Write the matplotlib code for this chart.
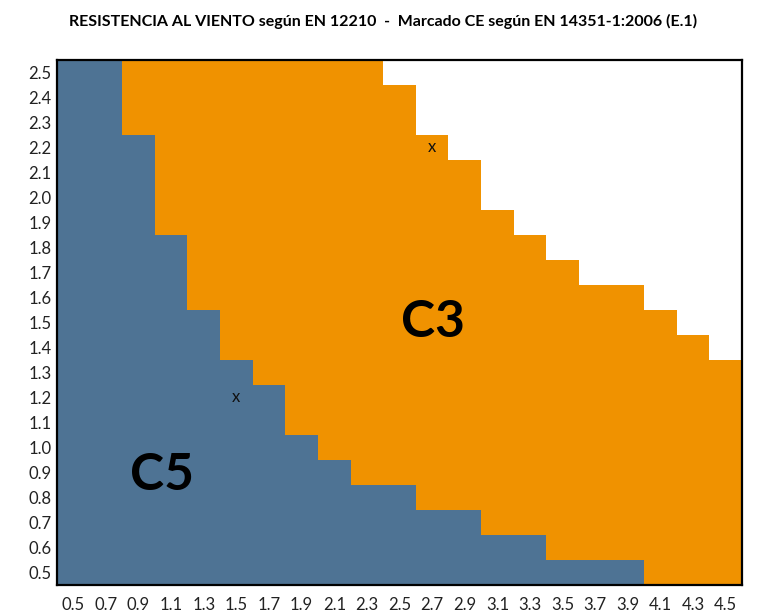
import matplotlib
matplotlib.use("Agg")
import matplotlib.pyplot as plt
import numpy as np

# ---------------- data ----------------
x_labels = ["0.5", "0.7", "0.9", "1.1", "1.3", "1.5", "1.7", "1.9", "2.1", "2.3", "2.5",
            "2.7", "2.9", "3.1", "3.3", "3.5", "3.7", "3.9", "4.1", "4.3", "4.5"]
y_ticks = [0.5, 0.6, 0.7, 0.8, 0.9, 1.0, 1.1, 1.2, 1.3, 1.4, 1.5,
           1.6, 1.7, 1.8, 1.9, 2.0, 2.1, 2.2, 2.3, 2.4, 2.5]

# highest row (y value) reached by each class in every column; 0.4 = none
c5_top = [2.5, 2.5, 2.2, 1.8, 1.5, 1.3, 1.2, 1.0, 0.9, 0.8, 0.8,
          0.7, 0.7, 0.6, 0.6, 0.5, 0.5, 0.5, 0.4, 0.4, 0.4]
c3_top = [2.5, 2.5, 2.5, 2.5, 2.5, 2.5, 2.5, 2.5, 2.5, 2.5, 2.4,
          2.2, 2.1, 1.9, 1.8, 1.7, 1.6, 1.6, 1.5, 1.4, 1.3]

# sample points marked with an "x": (column label, y value)
marks = [("1.5", 1.2), ("2.7", 2.2)]

BLUE = "#4E7394"
ORANGE = "#F09200"
FONT = "Lato"

# ---------------- figure ----------------
fig = plt.figure(figsize=(7.79, 6.16), dpi=100)
ax = fig.add_axes([57 / 779, 31 / 616, 685 / 779, 525 / 616])

half = 0.05
base = y_ticks[0] - half
xs = np.arange(len(x_labels))
c5_h = np.array(c5_top) + half - base
c3_h = np.array(c3_top) - np.array(c5_top)

ax.bar(xs, c5_h, width=1.0, bottom=base, color=BLUE, linewidth=0)
ax.bar(xs, c3_h, width=1.0, bottom=base + c5_h, color=ORANGE, linewidth=0)

for lab, yv in marks:
    ax.text(x_labels.index(lab), yv, "x", ha="center", va="center",
            fontsize=12, family=FONT, color="#111111")

ax.text(2.72, 0.89, "C5", ha="center", va="center", fontsize=37,
        fontweight="bold", family=FONT, color="black")
ax.text(11.03, 1.50, "C3", ha="center", va="center", fontsize=37,
        fontweight="bold", family=FONT, color="black")

ax.set_xlim(-0.5, len(x_labels) - 0.5)
ax.set_ylim(base, y_ticks[-1] + half)
ax.set_xticks(xs)
ax.set_xticklabels(x_labels)
ax.set_yticks(y_ticks)
ax.set_yticklabels([f"{v:.1f}" for v in y_ticks])
ax.tick_params(length=0, labelsize=12, colors="#222222")
ax.tick_params(axis="x", pad=9)
ax.tick_params(axis="y", pad=4)
for t in ax.get_xticklabels() + ax.get_yticklabels():
    t.set_family(FONT)

for sp in ax.spines.values():
    sp.set_linewidth(1.6)
    sp.set_color("black")

fig.text(0.492, 0.965, "RESISTENCIA AL VIENTO según EN 12210  -  Marcado CE según EN 14351-1:2006 (E.1)",
         ha="center", va="center", fontsize=11.5, fontweight="bold", family=FONT)

fig.savefig("out.png", dpi=100)
